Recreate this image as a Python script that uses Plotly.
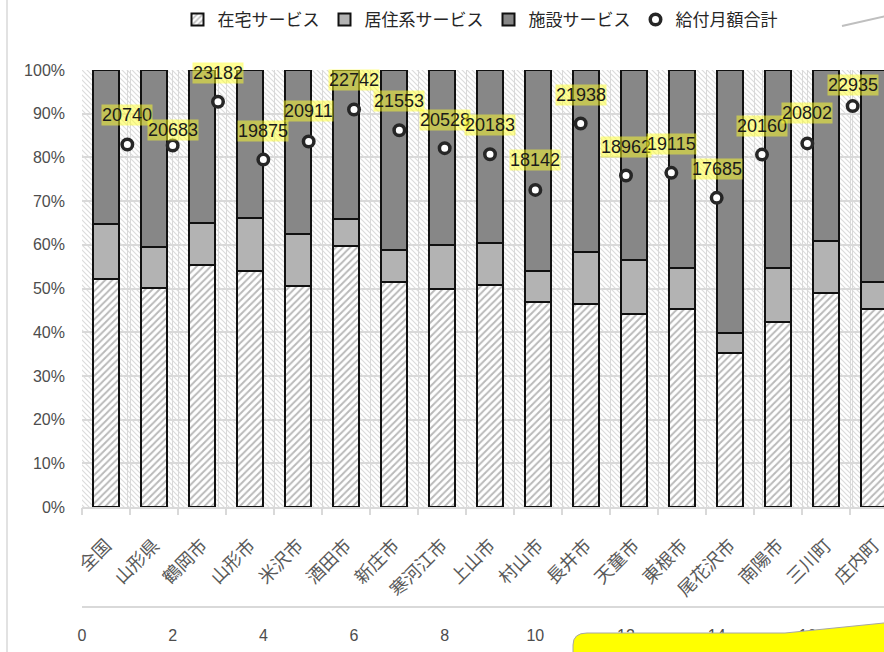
import plotly.graph_objects as go
from urllib.parse import quote

# --- data -------------------------------------------------------------------
categories = ["全国", "山形県", "鶴岡市", "山形市", "米沢市", "酒田市", "新庄市",
              "寒河江市", "上山市", "村山市", "長井市", "天童市", "東根市",
              "尾花沢市", "南陽市", "三川町", "庄内町"]

home_care = [52.2, 50.2, 55.3, 54.1, 50.5, 59.7, 51.6, 49.8, 50.7,
             46.9, 46.4, 44.2, 45.4, 35.2, 42.3, 48.9, 45.2]
residential = [12.5, 9.4, 9.7, 12.0, 12.0, 6.3, 7.2, 10.2, 9.6,
               7.0, 11.9, 12.3, 9.2, 4.7, 12.3, 12.0, 6.4]
facility = [35.3, 40.4, 35.0, 33.9, 37.5, 34.0, 41.2, 40.0, 39.7,
            46.1, 41.7, 43.5, 45.4, 60.1, 45.4, 39.1, 48.4]

monthly_total = [20740, 20683, 23182, 19875, 20911, 22742, 21553, 20528, 20183,
                 18142, 21938, 18962, 19115, 17685, 20160, 20802, 22935]
point_x = list(range(1, 18))

# vertical lift (px) of each value label above its marker
label_lift = [29, 15, 29, 29, 30, 29, 29, 28, 29, 30, 29, 29, 29, 29, 29, 30, 21]

# --- layout geometry ----------------------------------------------------------
W, H = 884, 652
M_L, M_R, M_T, M_B = 82, 0, 70, 10
PLOT_BOTTOM_PX = 507          # 0% line
SEC_AXIS_PX = 607             # secondary numeric axis line
CAT_PX = 48.0                 # pixel width of one category band
paper_w = W - M_L - M_R
paper_h = H - M_T - M_B
y_dom0 = (H - M_B - PLOT_BOTTOM_PX) / paper_h
sec_pos = (H - M_B - SEC_AXIS_PX) / paper_h
cat_span = paper_w / CAT_PX
num_span = cat_span * 18 / 17


def P(px, py):
    """pixel position -> paper coordinates string"""
    return f"{(px - M_L) / paper_w:.5f},{(H - M_B - py) / paper_h:.5f}"


TXT = "#595959"
GRID = "#d9d9d9"
FONT = "Liberation Sans, Noto Sans CJK JP, sans-serif"
CJK = "Noto Sans CJK JP, sans-serif"

fig = go.Figure()

fig.add_trace(go.Bar(
    name="在宅サービス", x=categories, y=home_care, width=0.56,
    marker=dict(color="white", line=dict(color="#111111", width=2),
                pattern=dict(shape="/", fgcolor="#737373", bgcolor="white",
                             size=5, solidity=0.38)),
))
fig.add_trace(go.Bar(
    name="居住系サービス", x=categories, y=residential, width=0.56,
    marker=dict(color="#b3b3b3", line=dict(color="#111111", width=2)),
))
fig.add_trace(go.Bar(
    name="施設サービス", x=categories, y=facility, width=0.56,
    marker=dict(color="#878787", line=dict(color="#111111", width=2)),
))
fig.add_trace(go.Scatter(
    name="給付月額合計", x=point_x, y=monthly_total, xaxis="x2", yaxis="y2",
    mode="markers",
    marker=dict(size=10.5, color="white", line=dict(color="#262626", width=3.5)),
))
# empty trace that carries the category-boundary grid axis
fig.add_trace(go.Scatter(x=[], y=[], xaxis="x3", showlegend=False, hoverinfo="skip"))

annotations = []
for xv, yv, lift in zip(point_x, monthly_total, label_lift):
    annotations.append(dict(
        x=xv, y=yv, xref="x2", yref="y2", text=str(yv), showarrow=False,
        yshift=lift, font=dict(size=18, color="#1a1a1a", family=FONT),
        bgcolor="rgba(255,255,40,0.5)", borderpad=0,
    ))

# light diagonal hatch behind the plot area
pw, ph = paper_w, PLOT_BOTTOM_PX - M_T
svg = (f'<svg xmlns="http://www.w3.org/2000/svg" width="{pw}" height="{ph}">'
       '<defs><pattern id="h" width="5" height="5" patternUnits="userSpaceOnUse">'
       '<path d="M-1,-1 L6,6 M-1,4 L1,6 M4,-1 L6,1" stroke="#dcdcdc" stroke-width="1.2"/>'
       '</pattern></defs><rect width="100%" height="100%" fill="url(#h)"/></svg>')
hatch_uri = "data:image/svg+xml;charset=utf-8," + quote(svg)

callout = (f"M{P(573, 660)} L{P(573, 645)} Q{P(573, 633)} {P(587, 633)} "
           f"L{P(785, 633)} L{P(884, 623)} L{P(890, 623)} L{P(890, 660)} Z")

shapes = [
    dict(type="line", xref="paper", yref="paper",
         x0=(7 - M_L) / paper_w, x1=(7 - M_L) / paper_w,
         y0=(H - M_B) / paper_h, y1=-M_B / paper_h,
         line=dict(color=GRID, width=1.5), layer="above"),
    dict(type="line", xref="paper", yref="paper",
         x0=(842 - M_L) / paper_w, y0=(H - M_B - 26) / paper_h,
         x1=(886 - M_L) / paper_w, y1=(H - M_B - 16) / paper_h,
         line=dict(color="#bfbfbf", width=2), layer="above"),
    dict(type="path", xref="paper", yref="paper", path=callout,
         fillcolor="#ffff00", line=dict(color="#a6a6a6", width=1), layer="above"),
]

fig.update_layout(
    width=W, height=H,
    margin=dict(l=M_L, r=M_R, t=M_T, b=M_B, pad=0),
    paper_bgcolor="white", plot_bgcolor="white",
    barmode="stack",
    font=dict(family=FONT, size=16, color=TXT),
    showlegend=True,
    legend=dict(orientation="h", traceorder="normal",
                x=(480 - M_L) / paper_w, xanchor="center",
                y=(H - M_B - 2) / paper_h, yanchor="top",
                font=dict(size=17, color="#262626", family=CJK), itemwidth=30,
                bgcolor="rgba(0,0,0,0)"),
    xaxis=dict(type="category", range=[-0.5, -0.5 + cat_span],
               ticks="outside", ticklen=19, tickcolor="rgba(0,0,0,0)",
               showline=True, linecolor=GRID, linewidth=1.5,
               showgrid=False, tickangle=-45,
               tickfont=dict(size=18, color=TXT, family=CJK)),
    xaxis3=dict(overlaying="x", anchor="y", range=[-0.5, -0.5 + cat_span],
                tick0=-0.5, dtick=1, showgrid=True, gridcolor=GRID, gridwidth=1,
                ticks="outside", ticklen=7, tickcolor=GRID, tickwidth=1.5,
                showticklabels=False, showline=False, zeroline=False),
    yaxis=dict(domain=[y_dom0, 1], range=[0, 100], dtick=10, ticksuffix="%",
               showgrid=True, gridcolor=GRID, gridwidth=1.5, zeroline=False,
               showline=False, ticks="", ticklabelstandoff=16,
               tickfont=dict(size=16, color="#4d4d4d")),
    xaxis2=dict(overlaying="x", anchor="free", position=sec_pos, side="bottom",
                range=[0, num_span], tick0=0, dtick=2,
                showline=True, linecolor=GRID, linewidth=2,
                showgrid=True, gridcolor=GRID, gridwidth=1, zeroline=False,
                minor=dict(dtick=1, showgrid=True, gridcolor=GRID, gridwidth=1, ticks=""),
                ticks="", ticklabelstandoff=14, tickfont=dict(size=16, color="#4d4d4d")),
    yaxis2=dict(overlaying="y", range=[0, 25000], visible=False),
    annotations=annotations,
    shapes=shapes,
    images=[dict(source=hatch_uri, xref="paper", yref="paper", x=0, y=1,
                 sizex=1, sizey=1 - y_dom0, xanchor="left", yanchor="top",
                 sizing="stretch", layer="below")],
)

fig.write_html("out.html")
